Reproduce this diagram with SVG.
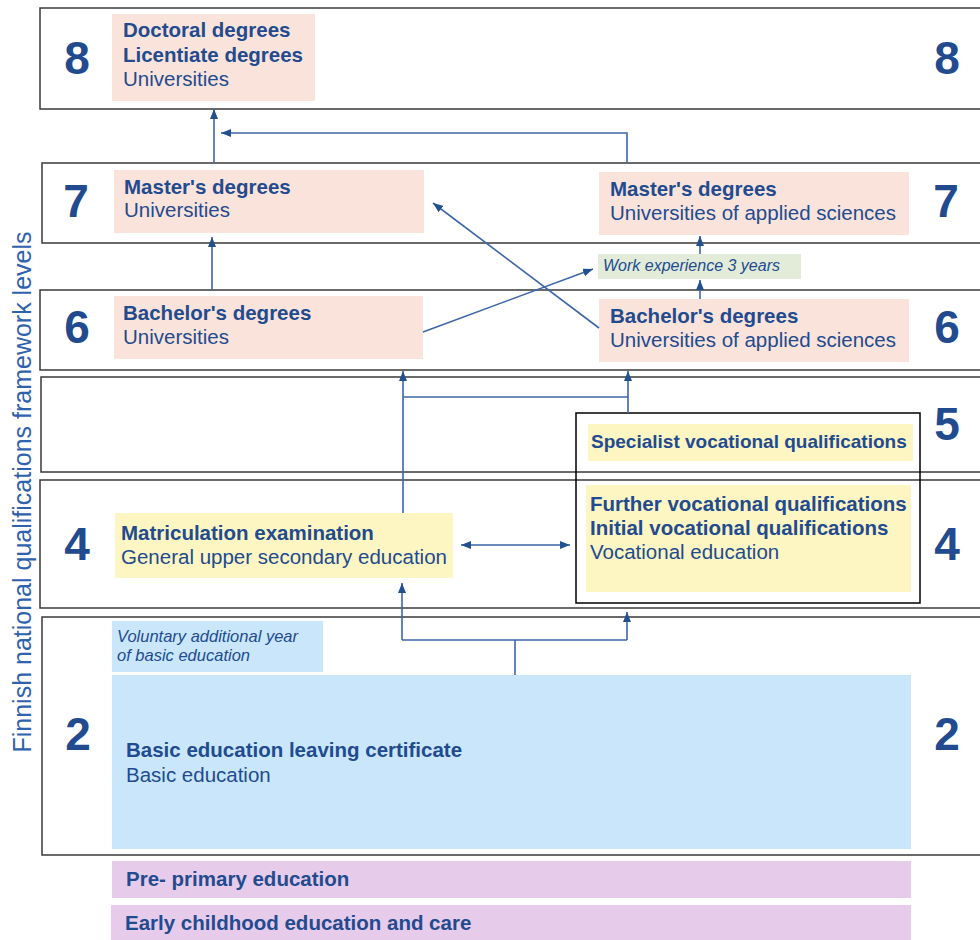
<svg xmlns="http://www.w3.org/2000/svg" width="980" height="940" viewBox="0 0 980 940">
<style>
.band{fill:#fff;stroke:#3a3a3a;stroke-width:1.5}
.peach{fill:#fae3da}
.yellow{fill:#fdf6c3}
.blue{fill:#c9e6fa}
.purple{fill:#e7cbea}
.green{fill:#e2ecd9}
.t{font-family:"Liberation Sans",Arial,sans-serif;font-size:20.5px;fill:#224b8f}
.b{font-weight:bold}
.i{font-style:italic;font-size:16px}
.num{font-family:"Liberation Sans",Arial,sans-serif;font-size:46px;font-weight:bold;fill:#224b8f;text-anchor:middle}
.axis{font-family:"Liberation Sans",Arial,sans-serif;font-size:25px;fill:#2f62ad;text-anchor:middle}
.c{fill:none;stroke:#3d66a8;stroke-width:1.6}
</style>
<defs>
<marker id="ah" viewBox="0 0 10 8" refX="10" refY="4" markerWidth="10" markerHeight="8" markerUnits="userSpaceOnUse" orient="auto-start-reverse">
<path d="M0,0 L10,4 L0,8 Z" fill="#23508f"/>
</marker>
</defs>
<rect width="980" height="940" fill="#fff"/>

<g id="bands">
<rect class="band" x="40" y="8" width="960" height="101"/>
<rect class="band" x="42" y="163" width="960" height="80"/>
<rect class="band" x="40" y="290" width="960" height="80"/>
<rect class="band" x="41" y="377" width="960" height="95"/>
<rect class="band" x="40" y="480" width="960" height="128"/>
<rect class="band" x="42" y="617" width="960" height="238"/>
</g>

<text class="axis" transform="translate(31,492) rotate(-90)">Finnish national qualifications framework levels</text>

<g id="level-numbers">
<text class="num" x="77" y="74">8</text>
<text class="num" x="947" y="74">8</text>
<text class="num" x="76" y="217">7</text>
<text class="num" x="946" y="217">7</text>
<text class="num" x="77" y="343">6</text>
<text class="num" x="947" y="343">6</text>
<text class="num" x="947" y="440">5</text>
<text class="num" x="77" y="560">4</text>
<text class="num" x="947" y="560">4</text>
<text class="num" x="78" y="750">2</text>
<text class="num" x="947" y="750">2</text>
</g>

<g id="doctoral">
<rect class="peach" x="112" y="14" width="203" height="87"/>
<text class="t b" x="123" y="37">Doctoral degrees</text>
<text class="t b" x="123" y="62">Licentiate degrees</text>
<text class="t" x="123" y="86">Universities</text>
</g>

<g id="master-univ">
<rect class="peach" x="114" y="170" width="310" height="63"/>
<text class="t b" x="124" y="194">Master's degrees</text>
<text class="t" x="124" y="217">Universities</text>
</g>

<g id="master-uas">
<rect class="peach" x="599" y="172" width="310" height="63"/>
<text class="t b" x="610" y="196">Master's degrees</text>
<text class="t" x="610" y="220">Universities of applied sciences</text>
</g>

<g id="work-experience">
<rect class="green" x="598" y="254" width="203" height="25"/>
<text class="t i" x="603" y="271">Work experience 3 years</text>
</g>

<g id="bachelor-univ">
<rect class="peach" x="114" y="296" width="309" height="63"/>
<text class="t b" x="123" y="320">Bachelor's degrees</text>
<text class="t" x="123" y="344">Universities</text>
</g>

<g id="bachelor-uas">
<rect class="peach" x="599" y="299" width="310" height="63"/>
<text class="t b" x="610" y="323">Bachelor's degrees</text>
<text class="t" x="610" y="347">Universities of applied sciences</text>
</g>

<g id="vocational">
<rect x="576" y="413" width="344" height="190" fill="none" stroke="#000" stroke-width="1.5"/>
<rect class="yellow" x="588" y="424" width="325" height="37"/>
<text class="t b" x="591" y="448" style="font-size:19px">Specialist vocational qualifications</text>
<rect class="yellow" x="586" y="485" width="325" height="107"/>
<text class="t b" x="590" y="511">Further vocational qualifications</text>
<text class="t b" x="590" y="535">Initial vocational qualifications</text>
<text class="t" x="590" y="559">Vocational education</text>
</g>

<g id="matriculation">
<rect class="yellow" x="115" y="513" width="338" height="65"/>
<text class="t b" x="121" y="540">Matriculation examination</text>
<text class="t" x="121" y="564">General upper secondary education</text>
</g>

<g id="voluntary">
<rect class="blue" x="112" y="621" width="211" height="51"/>
<text class="t i" x="117" y="642" style="font-size:16.5px">Voluntary additional year</text>
<text class="t i" x="117" y="661" style="font-size:16.5px">of basic education</text>
</g>

<g id="basic">
<rect class="blue" x="112" y="675" width="799" height="174"/>
<text class="t b" x="126" y="757">Basic education leaving certificate</text>
<text class="t" x="126" y="782">Basic education</text>
</g>

<g id="pre-primary">
<rect class="purple" x="112" y="861" width="799" height="37"/>
<text class="t b" x="126" y="886">Pre- primary education</text>
</g>

<g id="early-childhood">
<rect class="purple" x="111" y="905" width="800" height="35"/>
<text class="t b" x="125" y="930">Early childhood education and care</text>
</g>

<g id="connectors">
<path class="c" d="M214,163 V109" marker-end="url(#ah)"/>
<path class="c" d="M627,163 V133 H221" marker-end="url(#ah)"/>
<path class="c" d="M212,290 V237" marker-end="url(#ah)"/>
<path class="c" d="M700,299 V280" marker-end="url(#ah)"/>
<path class="c" d="M700,254 V236" marker-end="url(#ah)"/>
<path class="c" d="M423,332 L593,269" marker-end="url(#ah)"/>
<path class="c" d="M599,328 L433,203" marker-end="url(#ah)"/>
<path class="c" d="M403,513 V371" marker-end="url(#ah)"/>
<path class="c" d="M628,413 V371" marker-end="url(#ah)"/>
<path class="c" d="M403,397 H628"/>
<path class="c" d="M461,545 H570" marker-start="url(#ah)" marker-end="url(#ah)"/>
<path class="c" d="M515,675 V640"/>
<path class="c" d="M402,640 H627"/>
<path class="c" d="M402,640 V583" marker-end="url(#ah)"/>
<path class="c" d="M627,640 V612" marker-end="url(#ah)"/>
</g>
</svg>
